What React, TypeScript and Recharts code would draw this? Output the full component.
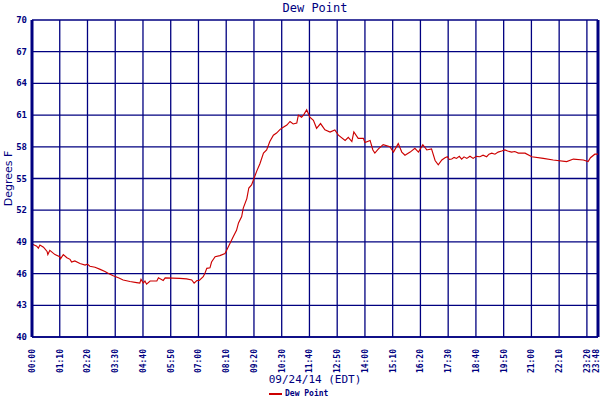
import React from 'react';
import { LineChart, Line, XAxis, YAxis, CartesianGrid, ReferenceLine } from 'recharts';

const minutes = [
  0, 12, 16, 20, 29, 38, 40, 45, 58, 70, 72, 79, 88, 96, 100, 108, 121, 134, 140, 146,
  159, 172, 184, 193, 205, 218, 230, 247, 264, 272, 275, 281, 285, 289, 298, 315, 319, 331, 336, 373,
  390, 403, 409, 416, 422, 432, 436, 441, 449, 453, 462, 474, 487, 491, 500, 508, 516, 521, 529, 533,
  542, 547, 554, 560, 567, 575, 584, 592, 600, 609, 617, 626, 634, 643, 651, 659, 668, 672, 680, 685,
  693, 701, 710, 718, 728, 739, 752, 764, 773, 790, 798, 807, 812, 823, 836, 840, 853, 860, 865, 874,
  886, 903, 912, 924, 933, 941, 954, 966, 975, 986, 996, 1008, 1017, 1025, 1034, 1042, 1048, 1053, 1059, 1065,
  1071, 1078, 1084, 1090, 1097, 1105, 1113, 1121, 1130, 1138, 1147, 1153, 1160, 1168, 1176, 1185, 1193, 1200, 1210, 1218,
  1227, 1244, 1261, 1290, 1315, 1349, 1366, 1391, 1403, 1409, 1420, 1428,
];

const dewPoint = [
  48.8, 48.6, 48.4, 48.7, 48.5, 48.1, 47.8, 48.2, 47.8, 47.6, 47.4, 47.8, 47.5, 47.35, 47.1, 47.2, 46.95, 46.8, 46.9, 46.7,
  46.6, 46.4, 46.2, 46.0, 45.8, 45.6, 45.4, 45.25, 45.15, 45.1, 45.45, 45.1, 45.3, 45.0, 45.3, 45.3, 45.6, 45.35, 45.6, 45.55,
  45.5, 45.4, 45.1, 45.35, 45.35, 45.7, 46.0, 46.5, 46.55, 47.1, 47.6, 47.7, 47.9, 48.2, 48.9, 49.5, 50.1, 50.8, 51.4, 52.2,
  53.1, 54.1, 54.4, 55.0, 55.7, 56.4, 57.4, 57.7, 58.5, 59.1, 59.3, 59.65, 59.85, 60.06, 60.4, 60.16, 60.25, 61.0, 60.8, 61.0,
  61.5, 60.8, 60.5, 59.75, 60.2, 59.6, 59.4, 59.6, 59.1, 58.6, 58.9, 58.5, 59.4, 58.8, 58.8, 58.4, 58.6, 57.7, 57.4, 57.8,
  58.2, 58.0, 57.5, 58.3, 57.5, 57.2, 57.5, 57.85, 57.5, 58.2, 57.7, 57.8, 56.7, 56.3, 56.75, 56.97, 57.06, 56.8, 56.84, 57.0,
  56.9, 57.1, 56.84, 57.05, 56.9, 57.1, 56.9, 57.1, 57.06, 57.2, 57.06, 57.3, 57.4, 57.3, 57.5, 57.6, 57.7, 57.6, 57.5, 57.55,
  57.4, 57.4, 57.06, 56.9, 56.75, 56.6, 56.84, 56.75, 56.6, 56.97, 57.3, 57.3,
];

const xTicks = [0, 70, 140, 210, 280, 350, 420, 490, 560, 630, 700, 770, 840, 910, 980, 1050, 1120, 1190, 1260, 1330, 1400, 1428];
const yTicks = [40, 43, 46, 49, 52, 55, 58, 61, 64, 67, 70];

const TITLE = 'Dew Point';
const X_LABEL = '09/24/14 (EDT)';
const Y_LABEL = 'Degrees F';
const SERIES_NAME = 'Dew Point';

const NAVY = '#000080';
const RED = '#cc0000';
const MONO = '"DejaVu Sans Mono", monospace';

const data = minutes.map((m, i) => ({ t: m, v: dewPoint[i] }));

const fmtTime = (m: number) => {
  const h = Math.floor(m / 60);
  const mm = m % 60;
  return `${String(h).padStart(2, '0')}:${String(mm).padStart(2, '0')}`;
};

const XTick = (props: any) => {
  const { x, y, payload } = props;
  const bx = Math.min(x + 3, 599);
  return (
    <text
      x={0}
      y={0}
      transform={`translate(${bx},${y + 4}) rotate(-90)`}
      textAnchor="end"
      fill={NAVY}
      fontFamily={MONO}
      fontWeight="bold"
      fontSize={8}
    >
      {fmtTime(payload.value)}
    </text>
  );
};

const YTick = (props: any) => {
  const { y, payload } = props;
  return (
    <text x={27} y={y + 3} textAnchor="end" fill={NAVY} fontFamily={MONO} fontWeight="bold" fontSize={9}>
      {payload.value}
    </text>
  );
};

const YLabel = (props: any) => {
  const vb = props.viewBox || { y: 20, height: 317 };
  const cy = vb.y + vb.height / 2;
  return (
    <text
      x={0}
      y={0}
      transform={`translate(12,${cy}) rotate(-90)`}
      textAnchor="middle"
      fill={NAVY}
      fontFamily='"DejaVu Sans", sans-serif'
      fontSize={11}
    >
      {Y_LABEL}
    </text>
  );
};

export default function App() {
  return (
    <div style={{ position: 'absolute', left: 0, top: 0, width: 600, height: 400, background: '#fff' }}>
      <div
        style={{
          position: 'absolute',
          left: 32,
          width: 566,
          top: 0,
          textAlign: 'center',
          fontFamily: MONO,
          fontSize: 12,
          color: NAVY,
          lineHeight: '16px',
        }}
      >
        {TITLE}
      </div>
      <LineChart width={600} height={400} data={data} margin={{ top: 20, right: 2, left: 0, bottom: 0 }}>
        <CartesianGrid stroke={NAVY} strokeWidth={1.3} horizontalValues={yTicks} verticalValues={xTicks} />
        <XAxis
          dataKey="t"
          type="number"
          domain={[0, 1428]}
          ticks={xTicks}
          interval={0}
          height={63}
          axisLine={{ stroke: NAVY, strokeWidth: 1.3 }}
          tickLine={false}
          tick={<XTick />}
          label={{ value: X_LABEL, position: 'insideBottom', offset: 17, fill: NAVY, fontFamily: MONO, fontSize: 11 }}
        />
        <YAxis
          type="number"
          domain={[40, 70]}
          ticks={yTicks}
          interval={0}
          width={32}
          axisLine={{ stroke: NAVY, strokeWidth: 3 }}
          tickLine={false}
          tick={<YTick />}
          label={<YLabel />}
        />
        <ReferenceLine x={1428} stroke={NAVY} strokeWidth={3} />
        <Line
          type="linear"
          dataKey="v"
          stroke={RED}
          strokeWidth={1.15}
          dot={false}
          isAnimationActive={false}
        />
      </LineChart>
      <div
        style={{
          position: 'absolute',
          left: 269,
          top: 389,
          display: 'flex',
          alignItems: 'center',
          fontFamily: MONO,
          fontWeight: 'bold',
          fontSize: 8,
          color: NAVY,
          lineHeight: '10px',
        }}
      >
        <span style={{ display: 'inline-block', width: 13, height: 2, background: RED, marginRight: 3 }} />
        <span>{SERIES_NAME}</span>
      </div>
    </div>
  );
}
